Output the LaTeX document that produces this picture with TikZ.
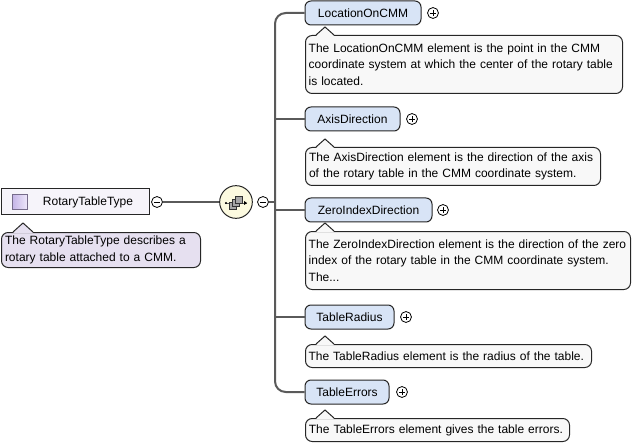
\documentclass[tikz,border=0pt]{standalone}
\usepackage{fontspec}
\setmainfont{Liberation Sans}
\definecolor{elemfill}{HTML}{D8E4F6}
\definecolor{docfill}{HTML}{F8F8F8}
\definecolor{rootdoc}{HTML}{E6E0F0}
\definecolor{rootfill}{HTML}{F6F4FA}
\definecolor{seqfill}{HTML}{FCFAE0}
\definecolor{connc}{HTML}{5A5A5A}
\definecolor{iconA}{HTML}{C4B4E6}
\definecolor{iconB}{HTML}{EDE6FA}
\begin{document}
\begin{tikzpicture}[x=0.75pt,y=-0.75pt,font=\fontsize{9}{12.3}\selectfont,
  elem/.style={draw=black!85,fill=elemfill,rounded corners=4.5pt,line width=0.75pt,inner sep=0pt,minimum height=18pt},
  doc/.style={draw=black!85,fill=docfill,rounded corners=5pt,line width=0.75pt,inner xsep=2.2pt,inner ysep=0pt,anchor=north west,align=left},
  pm/.style={circle,draw=black,line width=0.6pt,minimum size=8.2pt,inner sep=0pt,fill=white},
  conn/.style={draw=connc,line width=1.5pt},
  ptr/.style={draw=black!85,line width=0.75pt}]
\useasboundingbox (0,0) rectangle (638,445);

% root
\node[draw=black!85,fill=rootfill,line width=0.75pt,minimum width=111pt,minimum height=19.5pt,inner sep=0pt] (root) at (75,202) {};
\node[draw=iconA!60!black,left color=iconA,right color=iconB,minimum size=11pt,inner sep=0pt,line width=0.5pt] (ricon) at (19.5,202) {};
\node[inner sep=0pt] (rtext) at (88,202) {RotaryTableType};
\node[pm] (rmin) at (157,202) {};
\draw[line width=0.6pt] ([xshift=-2.3pt]rmin.center) -- ([xshift=2.3pt]rmin.center);
\node[doc,fill=rootdoc,minimum width=149.25pt,minimum height=26.25pt,text width=144pt] (rdoc) at (1,232) {The RotaryTableType describes a\\rotary table attached to a CMM.};
\fill[rootdoc] (13,233) -- (23,223) -- (33,233) -- cycle;
\draw[ptr] (13,232) -- (23,223) -- (33,232);

% sequence
\node[circle,draw=black!85,fill=seqfill,line width=0.75pt,minimum size=24.5pt,inner sep=0pt] (seq) at (236,202) {};
\draw[connc,line width=0.6pt] (225,203) -- (247,203);
\fill[black] (247,203) -- (244,201) -- (244,205) -- cycle;
\fill[black] (226,203) circle (1.2);
\foreach \dx in {0,3,6}{
  \filldraw[fill=gray!70,draw=black!80,line width=0.4pt] (229+\dx,209-\dx) rectangle (236+\dx,202-\dx);
}
\node[pm] (smin) at (263,202) {};
\draw[line width=0.6pt] ([xshift=-2.3pt]smin.center) -- ([xshift=2.3pt]smin.center);
\draw[conn] (rmin.east) -- (seq.west);
\coordinate (trunk) at (275,202);
\draw[conn] (smin.east) -- (trunk);

% elements
\node[elem,minimum width=87pt] (loc) at (363,13) {LocationOnCMM};
\node[elem,minimum width=71.25pt] (axis) at (352.5,119) {AxisDirection};
\node[elem,minimum width=95.25pt] (zero) at (368.5,210) {ZeroIndexDirection};
\node[elem,minimum width=66.75pt] (rad) at (349.5,317) {TableRadius};
\node[elem,minimum width=63pt] (err) at (347,392) {TableErrors};

\foreach \n/\x/\y in {ploc/433/13,paxis/412/119,pzero/443/210,prad/406/317,perr/402/392}{
  \node[pm] (\n) at (\x,\y) {};
  \draw[line width=0.6pt] ([xshift=-2.3pt]\n.center) -- ([xshift=2.3pt]\n.center);
  \draw[line width=0.6pt] ([yshift=-2.3pt]\n.center) -- ([yshift=2.3pt]\n.center);
}

% connectors
\draw[conn,rounded corners=8pt] (loc.west) -- (275,13) -- (275,392) -- (err.west);
\draw[conn] (275,119) -- (axis.west);
\draw[conn] (275,210) -- (zero.west);
\draw[conn] (275,317) -- (rad.west);

% docs
\node[doc,minimum width=237.75pt,minimum height=43.5pt,text width=233pt] (dloc) at (305,35) {The LocationOnCMM element is the point in the CMM\\coordinate system at which the center of the rotary table\\is located.};
\node[doc,minimum width=221.25pt,minimum height=28.5pt,text width=216pt] (daxis) at (305,147) {The AxisDirection element is the direction of the axis\\of the rotary table in the CMM coordinate system.};
\node[doc,minimum width=243.75pt,minimum height=43.5pt,text width=239pt] (dzero) at (305,231) {The ZeroIndexDirection element is the direction of the zero\\index of the rotary table in the CMM coordinate system.\\The...};
\node[doc,minimum width=214.5pt,minimum height=17.25pt,text width=210pt] (drad) at (305,344) {The TableRadius element is the radius of the table.};
\node[doc,minimum width=198pt,minimum height=17.25pt,text width=193pt] (derr) at (305,418) {The TableErrors element gives the table errors.};

\foreach \t in {35,147,231,344,418}{
  \fill[docfill] (316,\t+1) -- (325,\t-8) -- (334,\t+1) -- cycle;
  \draw[ptr] (316,\t) -- (325,\t-8) -- (334,\t);
}
\end{tikzpicture}
\end{document}
